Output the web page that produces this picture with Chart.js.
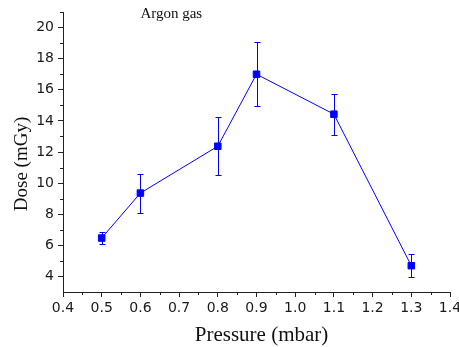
<!DOCTYPE html>
<html><head><meta charset="utf-8">
<script src="https://cdn.jsdelivr.net/npm/chart.js@4.4.1/dist/chart.umd.min.js"></script>
<style>html,body{margin:0;padding:0;background:#fff}#wrap{width:459px;height:347px;position:relative}</style>
</head><body><div id="wrap"><canvas id="c"></canvas></div>
<script>
const pressure = [0.5, 0.6, 0.8, 0.9, 1.1, 1.3];
const dose = [6.47, 9.36, 12.37, 17.0, 14.43, 4.69];
const doseErr = [0.40, 1.25, 1.88, 2.05, 1.33, 0.73];
const xTicks = [0.4, 0.5, 0.6, 0.7, 0.8, 0.9, 1.0, 1.1, 1.2, 1.3, 1.4];
const yTicks = [4, 6, 8, 10, 12, 14, 16, 18, 20];
const xRange = [0.4, 1.4];
const yRange = [3, 21];
const chartTitle = 'Argon gas';
const xTitle = 'Pressure (mbar)';
const yTitle = 'Dose (mGy)';
const blue = '#0000ff';
const axisColor = '#222';

const extras = {
  id: 'extras',
  beforeDatasetsDraw(chart) {
    const {ctx, scales: {x, y}} = chart;
    ctx.save();
    ctx.strokeStyle = blue;
    ctx.lineWidth = 1;
    pressure.forEach((p, i) => {
      const px = Math.round(x.getPixelForValue(p)) + 0.5;
      const yt = Math.round(y.getPixelForValue(dose[i] + doseErr[i])) + 0.5;
      const yb = Math.round(y.getPixelForValue(dose[i] - doseErr[i])) + 0.5;
      ctx.beginPath();
      ctx.moveTo(px, yt); ctx.lineTo(px, yb);
      ctx.moveTo(px - 3, yt); ctx.lineTo(px + 3, yt);
      ctx.moveTo(px - 3, yb); ctx.lineTo(px + 3, yb);
      ctx.stroke();
    });
    ctx.restore();
  },
  afterDraw(chart) {
    const {ctx, chartArea: a, scales: {x, y}} = chart;
    ctx.save();
    ctx.strokeStyle = axisColor;
    ctx.lineWidth = 1;
    ctx.beginPath();
    // minor ticks (midpoints of major ticks, plus the ends)
    const xm = [];
    for (let i = 0; i < xTicks.length - 1; i++) xm.push((xTicks[i] + xTicks[i + 1]) / 2);
    xm.forEach(v => {
      const px = Math.round(x.getPixelForValue(v)) + 0.5;
      ctx.moveTo(px, a.bottom); ctx.lineTo(px, a.bottom + 3);
    });
    const ym = [yRange[0] + 0 * 1];
    const ymin = [];
    for (let i = 0; i < yTicks.length - 1; i++) ymin.push((yTicks[i] + yTicks[i + 1]) / 2);
    ymin.push(yRange[1]);
    ymin.forEach(v => {
      const py = Math.round(y.getPixelForValue(v)) + 0.5;
      ctx.moveTo(a.left - 3, py); ctx.lineTo(a.left, py);
    });
    ctx.stroke();

    ctx.fillStyle = '#111';
    // annotation title
    ctx.font = '15px "Liberation Serif", "Times New Roman", serif';
    ctx.textAlign = 'left';
    ctx.textBaseline = 'alphabetic';
    ctx.fillText(chartTitle, x.getPixelForValue(0.6), a.top + 5.5);
    // x title
    ctx.font = '21px "Liberation Serif", "Times New Roman", serif';
    ctx.textAlign = 'center';
    ctx.fillText(xTitle, (a.left + a.right) / 2 + 5, a.bottom + 49);
    // y title
    ctx.font = '19px "Liberation Serif", "Times New Roman", serif';
    ctx.translate(a.left - 36, (a.top + a.bottom) / 2 + 12);
    ctx.rotate(-Math.PI / 2);
    ctx.fillText(yTitle, 0, 0);
    ctx.restore();
  }
};

new Chart(document.getElementById('c'), {
  type: 'line',
  data: {
    datasets: [{
      data: pressure.map((p, i) => ({x: p, y: dose[i]})),
      borderColor: blue,
      backgroundColor: blue,
      borderWidth: 1,
      pointStyle: 'rect',
      pointRadius: 4.6,
      pointBorderWidth: 1,
      pointBackgroundColor: blue,
      pointBorderColor: blue,
      tension: 0,
      fill: false
    }]
  },
  options: {
    responsive: true,
    maintainAspectRatio: false,
    animation: false,
    devicePixelRatio: 1,
    layout: {padding: {top: 12, right: 0, left: 0, bottom: 0}},
    plugins: {legend: {display: false}, tooltip: {enabled: false}, title: {display: false}},
    scales: {
      x: {
        type: 'linear',
        min: xRange[0], max: xRange[1],
        afterBuildTicks: s => { s.ticks = xTicks.map(v => ({value: v})); },
        afterFit: s => { s.height = 55; s.paddingRight = 9; s.paddingLeft = 0; },
        ticks: {
          font: {family: '"DejaVu Sans", sans-serif', size: 14},
          color: '#1a1a1a', padding: 3, maxRotation: 0, autoSkip: false,
          callback: v => Number(v).toFixed(1)
        },
        grid: {display: true, drawOnChartArea: false, drawTicks: true, tickLength: 5, tickColor: axisColor, tickWidth: 1},
        border: {display: true, color: axisColor, width: 1},
        title: {display: false}
      },
      y: {
        type: 'linear',
        min: yRange[0], max: yRange[1],
        afterBuildTicks: s => { s.ticks = yTicks.map(v => ({value: v})); },
        afterFit: s => { s.width = 63; s.paddingTop = 0; s.paddingBottom = 0; },
        ticks: {
          font: {family: '"DejaVu Sans", sans-serif', size: 14},
          color: '#1a1a1a', padding: 4, autoSkip: false,
          callback: v => String(v)
        },
        grid: {display: true, drawOnChartArea: false, drawTicks: true, tickLength: 5, tickColor: axisColor, tickWidth: 1},
        border: {display: true, color: axisColor, width: 1},
        title: {display: false}
      }
    }
  },
  plugins: [extras]
});
</script>
</body></html>
